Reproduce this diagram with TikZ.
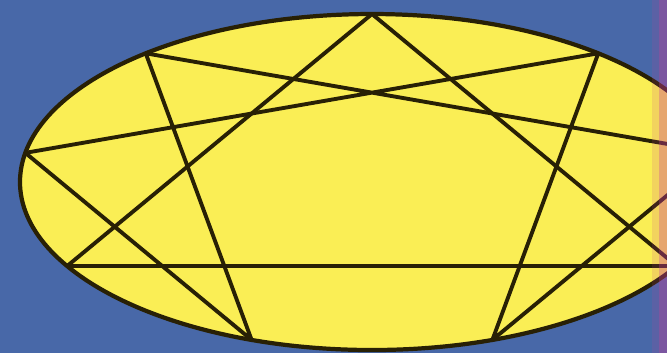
\documentclass[tikz,border=0pt]{standalone}
\definecolor{fondbleu}{RGB}{72,104,168}
\definecolor{jaune}{RGB}{250,238,85}
\definecolor{encre}{RGB}{40,32,5}
\definecolor{bord}{RGB}{200,60,150}

\begin{document}
\begin{tikzpicture}[
    x=0.01cm, y=0.01cm,
    ovale/.style={draw=encre, fill=jaune, line width=1.2pt},
    trait/.style={draw=encre, line width=1.1pt, line join=round},
    bande/.style={fill=bord}
]

% Fond
\useasboundingbox (-372,-171) rectangle (295,182);
\clip (-372,-171) rectangle (295,182);
\fill[fondbleu] (-372,-171) rectangle (295,182);

% Ellipse
\draw[ovale] (0,0) ellipse [x radius=352, y radius=168];

% Sommets
\coordinate (p9) at (90:352 and 168);
\coordinate (p1) at (50:352 and 168);
\coordinate (p2) at (10:352 and 168);
\coordinate (p3) at (-30:352 and 168);
\coordinate (p4) at (-70:352 and 168);
\coordinate (p5) at (-110:352 and 168);
\coordinate (p6) at (-150:352 and 168);
\coordinate (p7) at (170:352 and 168);
\coordinate (p8) at (130:352 and 168);

% Triangle
\draw[trait] (p9) -- (p3) -- (p6) -- cycle;

% Hexagramme
\draw[trait] (p1) -- (p4) -- (p2) -- (p8) -- (p5) -- (p7) -- cycle;

% Bande au bord droit
\fill[bande, opacity=0.15] (280,-171) rectangle (287,182);
\fill[bande, opacity=0.4] (287,-171) rectangle (295,182);

\end{tikzpicture}
\end{document}
